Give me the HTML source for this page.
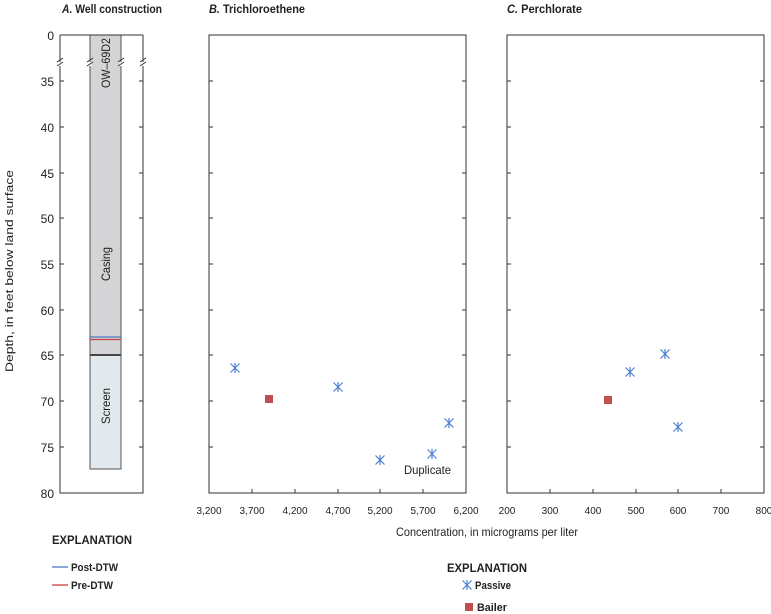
<!DOCTYPE html><html><head><style>body{margin:0;background:#fff}svg{display:block}text{font-family:"Liberation Sans",sans-serif;fill:#222}</style></head><body>
<svg width="771" height="614" viewBox="0 0 771 614" xmlns="http://www.w3.org/2000/svg">
<g font-size="12" font-weight="bold">
<text x="62" y="13" textLength="100" lengthAdjust="spacingAndGlyphs"><tspan font-style="italic">A.</tspan> Well construction</text>
<text x="209" y="13" textLength="96" lengthAdjust="spacingAndGlyphs"><tspan font-style="italic">B.</tspan> Trichloroethene</text>
<text x="507" y="13" textLength="75" lengthAdjust="spacingAndGlyphs"><tspan font-style="italic">C.</tspan> Perchlorate</text>
</g>
<!-- Panel A -->
<rect x="90" y="35" width="31" height="320" fill="#d4d4d6" stroke="#555" stroke-width="1"/>
<rect x="90" y="355" width="31" height="114" fill="#e2e9ed" stroke="#555" stroke-width="1"/>
<line x1="90" y1="355" x2="121" y2="355" stroke="#444" stroke-width="2"/>
<line x1="90" y1="337" x2="121" y2="337" stroke="#4a78c0" stroke-width="1.3"/>
<line x1="90" y1="339.5" x2="121" y2="339.5" stroke="#c84040" stroke-width="1.3"/>
<path d="M60 35V493H143V35" fill="none" stroke="#333"/>
<line x1="60" y1="35" x2="143" y2="35" stroke="#333"/>
<g stroke="#fff" stroke-width="3"><path d="M60 62v4M90 62v4M121 62v4M143 62v4"/></g>
<g stroke="#333" stroke-width="1"><path d="M57 66l6-4M87 66l6-4M118 66l6-4M140 66l6-4"/><path d="M57 62l6-4M87 62l6-4M118 62l6-4M140 62l6-4"/></g>
<g stroke="#333">
<path d="M60 81h4M60 127h4M60 173h4M60 218h4M60 264h4M60 310h4M60 355h4M60 401h4M60 447h4"/>
<path d="M143 81h-4M143 127h-4M143 173h-4M143 218h-4M143 264h-4M143 310h-4M143 355h-4M143 401h-4M143 447h-4"/>
</g>
<g font-size="12" text-anchor="end">
<text x="54" y="40">0</text><text x="54" y="86">35</text><text x="54" y="132">40</text><text x="54" y="178">45</text><text x="54" y="223">50</text><text x="54" y="269">55</text><text x="54" y="315">60</text><text x="54" y="360">65</text><text x="54" y="406">70</text><text x="54" y="452">75</text><text x="54" y="498">80</text>
</g>
<text transform="translate(13 271) rotate(-90)" font-size="11" text-anchor="middle" textLength="202" lengthAdjust="spacingAndGlyphs">Depth, in feet below land surface</text>
<g font-size="12" text-anchor="middle">
<text transform="translate(110 63) rotate(-90)" textLength="50" lengthAdjust="spacingAndGlyphs">OW–69D2</text>
<text transform="translate(110 264) rotate(-90)" textLength="34" lengthAdjust="spacingAndGlyphs">Casing</text>
<text transform="translate(110 406) rotate(-90)" textLength="36" lengthAdjust="spacingAndGlyphs">Screen</text>
</g>
<!-- Panels B, C -->
<rect x="209" y="35" width="257" height="458" fill="none" stroke="#333"/>
<g stroke="#333">
<path d="M209 81h4M209 127h4M209 173h4M209 218h4M209 264h4M209 310h4M209 355h4M209 401h4M209 447h4"/>
<path d="M466 81h-4M466 127h-4M466 173h-4M466 218h-4M466 264h-4M466 310h-4M466 355h-4M466 401h-4M466 447h-4"/>
<path d="M252 493v-4M295 493v-4M338 493v-4M380 493v-4M423 493v-4"/>
<rect x="507" y="35" width="257" height="458" fill="none"/>
<path d="M507 81h4M507 127h4M507 173h4M507 218h4M507 264h4M507 310h4M507 355h4M507 401h4M507 447h4"/>
<path d="M764 81h-4M764 127h-4M764 173h-4M764 218h-4M764 264h-4M764 310h-4M764 355h-4M764 401h-4M764 447h-4"/>
<path d="M550 493v-4M593 493v-4M636 493v-4M678 493v-4M721 493v-4"/>
</g>
<g font-size="10" text-anchor="middle">
<text x="209" y="514">3,200</text><text x="252" y="514">3,700</text><text x="295" y="514">4,200</text><text x="338" y="514">4,700</text><text x="380" y="514">5,200</text><text x="423" y="514">5,700</text><text x="466" y="514">6,200</text>
<text x="507" y="514">200</text><text x="550" y="514">300</text><text x="593" y="514">400</text><text x="636" y="514">500</text><text x="678" y="514">600</text><text x="721" y="514">700</text><text x="764" y="514">800</text>
</g>
<text x="396" y="536" font-size="12" textLength="182" lengthAdjust="spacingAndGlyphs">Concentration, in micrograms per liter</text>
<text x="404" y="474" font-size="12" textLength="47" lengthAdjust="spacingAndGlyphs">Duplicate</text>
<defs><g id="p" stroke="#4a7fd0" stroke-width="1.2"><path d="M-4.5 -4.5L4.5 4.5M-4.5 4.5L4.5 -4.5M0 -5V5"/></g></defs>
<use href="#p" x="235" y="368"/><use href="#p" x="338" y="387"/><use href="#p" x="380" y="460"/><use href="#p" x="432" y="454"/><use href="#p" x="449" y="423"/>
<use href="#p" x="630" y="372"/><use href="#p" x="665" y="354"/><use href="#p" x="678" y="427"/>
<rect x="265" y="395" width="8" height="8" fill="#c0504d"/>
<rect x="604" y="396" width="8" height="8" fill="#c0504d"/>
<!-- legends -->
<text x="52" y="544" font-size="12" font-weight="bold" textLength="80" lengthAdjust="spacingAndGlyphs">EXPLANATION</text>
<line x1="52" y1="567" x2="68" y2="567" stroke="#4a78c0" stroke-width="1.3"/>
<text x="71" y="571" font-size="11" font-weight="bold" textLength="47" lengthAdjust="spacingAndGlyphs">Post-DTW</text>
<line x1="52" y1="585" x2="68" y2="585" stroke="#c84040" stroke-width="1.3"/>
<text x="71" y="589" font-size="11" font-weight="bold" textLength="42" lengthAdjust="spacingAndGlyphs">Pre-DTW</text>
<text x="447" y="572" font-size="12" font-weight="bold" textLength="80" lengthAdjust="spacingAndGlyphs">EXPLANATION</text>
<use href="#p" x="467" y="585"/>
<text x="475" y="589" font-size="11" font-weight="bold" textLength="36" lengthAdjust="spacingAndGlyphs">Passive</text>
<rect x="465" y="603" width="8" height="8" fill="#c0504d"/>
<text x="477" y="611" font-size="11" font-weight="bold" textLength="30" lengthAdjust="spacingAndGlyphs">Bailer</text>
</svg></body></html>
